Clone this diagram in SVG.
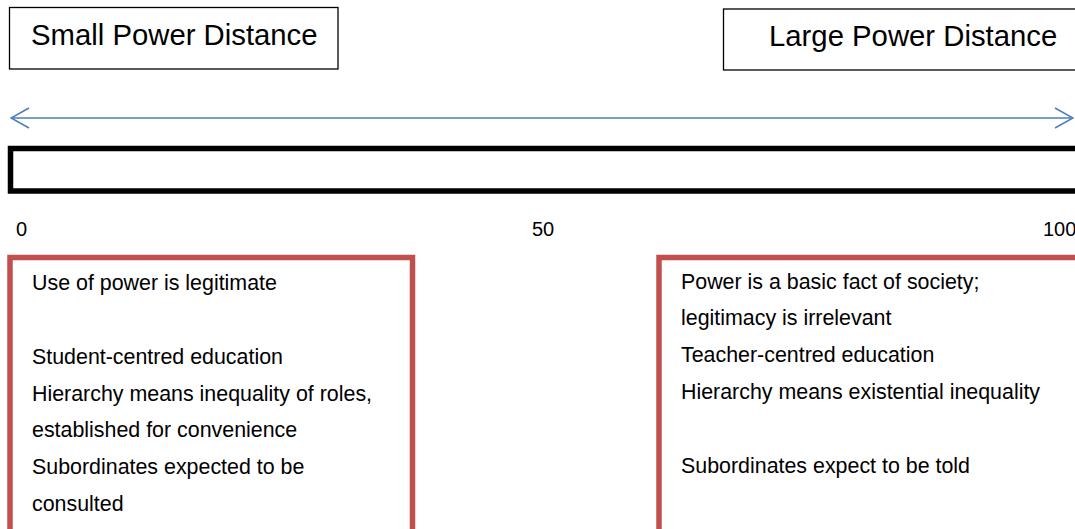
<svg xmlns="http://www.w3.org/2000/svg" width="1075" height="529" viewBox="0 0 1075 529">
  <defs>
    <style>
      .title { font-family: "Liberation Sans", Arial, sans-serif; font-size: 29.3px; fill: #000; }
      .tick { font-family: "Liberation Sans", Arial, sans-serif; font-size: 20px; fill: #000; }
      .item { font-family: "Liberation Sans", Arial, sans-serif; font-size: 21.4px; fill: #000; }
      .label-box { fill: #fff; stroke: #000; stroke-width: 1.3; }
      .scale-bar { fill: #fff; stroke: #000; stroke-width: 5.5; }
      .trait-box { fill: #fff; stroke: #C0504D; stroke-width: 5.5; }
      .axis { stroke: #4A7EBB; stroke-width: 1.5; fill: none; }
    </style>
    <marker id="open-head" viewBox="0 0 20 22" refX="19" refY="11" markerWidth="20" markerHeight="22" markerUnits="userSpaceOnUse" orient="auto-start-reverse">
      <path d="M1,1 L19,11 L1,21" fill="none" stroke="#4A7EBB" stroke-width="1.5"/>
    </marker>
  </defs>

  <!-- end labels -->
  <g id="small-power-distance">
    <rect class="label-box" x="9.5" y="7.5" width="328.5" height="61.5"/>
    <text class="title" x="31" y="45">Small Power Distance</text>
  </g>
  <g id="large-power-distance">
    <rect class="label-box" x="723.5" y="9" width="360" height="61"/>
    <text class="title" x="769" y="46">Large Power Distance</text>
  </g>

  <!-- double-headed scale arrow -->
  <g id="connectors">
    <line class="axis" x1="11" y1="118" x2="1073" y2="118" marker-start="url(#open-head)" marker-end="url(#open-head)"/>
  </g>

  <!-- scale bar and ticks -->
  <g id="scale">
    <rect class="scale-bar" x="10.5" y="148.5" width="1080" height="42.5"/>
    <text class="tick" x="16" y="236">0</text>
    <text class="tick" x="532" y="236">50</text>
    <text class="tick" x="1043" y="236">100</text>
  </g>

  <!-- characteristics, low end -->
  <g id="small-traits">
    <rect class="trait-box" x="10" y="257.5" width="402.5" height="290"/>
    <text class="item" x="32" y="290">Use of power is legitimate</text>
    <text class="item" x="32" y="364">Student-centred education</text>
    <text class="item" x="32" y="400.5">Hierarchy means inequality of roles,</text>
    <text class="item" x="32" y="437">established for convenience</text>
    <text class="item" x="32" y="474">Subordinates expected to be</text>
    <text class="item" x="32" y="511">consulted</text>
  </g>

  <!-- characteristics, high end -->
  <g id="large-traits">
    <rect class="trait-box" x="659" y="257.5" width="440" height="290"/>
    <text class="item" x="681" y="289">Power is a basic fact of society;</text>
    <text class="item" x="681" y="325">legitimacy is irrelevant</text>
    <text class="item" x="681" y="362">Teacher-centred education</text>
    <text class="item" x="681" y="399">Hierarchy means existential inequality</text>
    <text class="item" x="681" y="473">Subordinates expect to be told</text>
  </g>
</svg>
